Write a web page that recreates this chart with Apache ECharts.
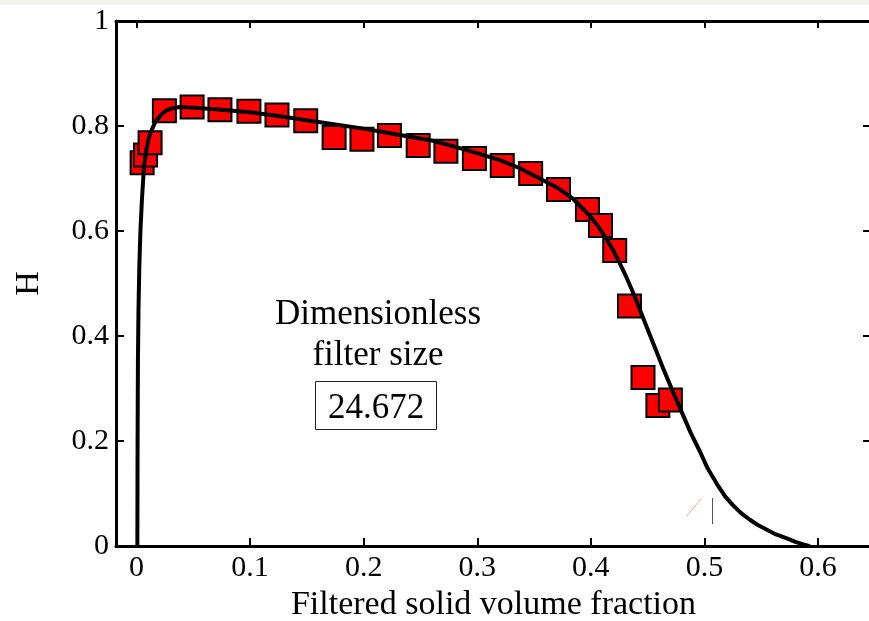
<!DOCTYPE html>
<html>
<head>
<meta charset="utf-8">
<script src="https://cdn.jsdelivr.net/npm/echarts@6/dist/echarts.min.js"></script>
<style>
html,body{margin:0;padding:0;background:#fff;}
#chart{width:869px;height:621px;}
</style>
</head>
<body>
<div id="chart"></div>
<script>
// Measured squares (simulation data)
var squareX = [0.005, 0.008, 0.012, 0.0246, 0.049, 0.0735, 0.099, 0.1237, 0.149, 0.174, 0.1985, 0.2227, 0.248, 0.2724, 0.2975, 0.322, 0.347, 0.3715, 0.397, 0.4085, 0.421, 0.434, 0.4459, 0.459, 0.470];
var squareY = [0.730, 0.745, 0.768, 0.829, 0.836, 0.831, 0.828, 0.821, 0.810, 0.778, 0.775, 0.782, 0.763, 0.752, 0.738, 0.725, 0.7095, 0.679, 0.641, 0.6105, 0.563, 0.457, 0.321, 0.2676, 0.278];
// Model curve
var curveX = [0.0008, 0.001, 0.0013, 0.0018, 0.0025, 0.0035, 0.0048, 0.0066, 0.0085, 0.0104, 0.012, 0.014, 0.0158, 0.0178, 0.022, 0.0266, 0.032, 0.038, 0.05, 0.075, 0.1, 0.125, 0.15, 0.175, 0.2, 0.232, 0.261, 0.291, 0.32, 0.338, 0.355, 0.37, 0.3845, 0.399, 0.407, 0.414, 0.42, 0.4256, 0.4315, 0.4373, 0.443, 0.449, 0.456, 0.4637, 0.472, 0.48, 0.488, 0.496, 0.503, 0.511, 0.518, 0.525, 0.532, 0.54, 0.547, 0.555, 0.563, 0.572, 0.58, 0.587, 0.592];
var curveY = [0, 0.2, 0.35, 0.45, 0.53, 0.6, 0.659, 0.722, 0.752, 0.773, 0.785, 0.795, 0.804, 0.811, 0.822, 0.830, 0.834, 0.836, 0.835, 0.831, 0.826, 0.819, 0.811, 0.803, 0.795, 0.783, 0.772, 0.754, 0.735, 0.719, 0.700, 0.683, 0.661, 0.629, 0.607, 0.584, 0.562, 0.538, 0.511, 0.482, 0.451, 0.418, 0.38, 0.338, 0.295, 0.255, 0.215, 0.18, 0.147, 0.118, 0.095, 0.078, 0.063, 0.05, 0.04, 0.031, 0.022, 0.015, 0.008, 0.003, 0];
var xTicks = [0, 0.1, 0.2, 0.3, 0.4, 0.5, 0.6];
var yTicks = [0, 0.2, 0.4, 0.6, 0.8, 1];
var xTitle = 'Filtered solid volume fraction';
var yTitle = 'H';
var noteLines = ['Dimensionless', 'filter size'];
var noteValue = '24.672';

var FONT = 'Liberation Serif, Times New Roman, serif';
var squares = squareX.map(function (x, i) { return [x, squareY[i]]; });
var curve = curveX.map(function (x, i) { return [x, curveY[i]]; });

var chart = echarts.init(document.getElementById('chart'), null, {renderer: 'canvas'});
var lineSty = {color: '#000', width: 3};
var option = {
  animation: false,
  backgroundColor: '#fff',
  grid: {left: 116, top: 21, right: -2, bottom: 75, containLabel: false, outerBoundsMode: 'none'},
  xAxis: [{
    type: 'value', min: -0.018, max: 0.6466, position: 'bottom',
    axisLine: {show: true, onZero: false, lineStyle: lineSty},
    axisTick: {show: true, inside: true, length: 8, lineStyle: {color: '#000', width: 2}, customValues: xTicks},
    axisLabel: {customValues: xTicks, color: '#000', fontFamily: FONT, fontSize: 30, margin: 7},
    splitLine: {show: false},
    name: xTitle, nameLocation: 'middle', nameGap: 36,
    nameTextStyle: {color: '#000', fontFamily: FONT, fontSize: 34}
  }, {
    type: 'value', min: -0.018, max: 0.6466, position: 'top',
    axisLine: {show: true, onZero: false, lineStyle: lineSty},
    axisTick: {show: true, inside: true, length: 7, lineStyle: {color: '#000', width: 2}, customValues: xTicks},
    axisLabel: {show: false},
    splitLine: {show: false}
  }],
  yAxis: [{
    type: 'value', min: 0, max: 1, interval: 0.2, position: 'left',
    axisLine: {show: true, onZero: false, lineStyle: lineSty},
    axisTick: {show: true, inside: true, length: 8, lineStyle: {color: '#000', width: 2}},
    axisLabel: {color: '#000', fontFamily: FONT, fontSize: 30, margin: 7},
    splitLine: {show: false},
    name: yTitle, nameLocation: 'middle', nameGap: 70, nameRotate: 90,
    nameTextStyle: {color: '#000', fontFamily: FONT, fontSize: 34}
  }, {
    type: 'value', min: 0, max: 1, interval: 0.2, position: 'right',
    axisLine: {show: true, onZero: false, lineStyle: lineSty},
    axisTick: {show: true, inside: true, length: 8, lineStyle: {color: '#000', width: 2}},
    axisLabel: {show: false},
    splitLine: {show: false}
  }],
  series: [{
    type: 'scatter', data: squares, symbol: 'rect', symbolSize: 23, z: 2,
    itemStyle: {color: '#ff0000', borderColor: '#000', borderWidth: 2, opacity: 1}
  }, {
    type: 'line', data: curve, showSymbol: false, symbol: 'none', z: 3, clip: true,
    lineStyle: {color: '#000', width: 4, join: 'round', cap: 'round'}
  }],
  graphic: [
    {type: 'rect', shape: {x: 0, y: 0, width: 869, height: 5}, style: {fill: '#f3f3ee'}, silent: true},
    {type: 'text', x: 378, y: 315, style: {text: noteLines[0], font: '35px ' + FONT, fill: '#000', align: 'center', verticalAlign: 'middle'}},
    {type: 'text', x: 378, y: 356, style: {text: noteLines[1], font: '35px ' + FONT, fill: '#000', align: 'center', verticalAlign: 'middle'}},
    {type: 'rect', shape: {x: 315.5, y: 381.5, width: 121, height: 48}, style: {fill: 'none', stroke: '#222', lineWidth: 1}},
    {type: 'text', x: 376, y: 409, style: {text: noteValue, font: '35px ' + FONT, fill: '#000', align: 'center', verticalAlign: 'middle'}},
    {type: 'line', shape: {x1: 686, y1: 517, x2: 701, y2: 499}, style: {stroke: '#f2a5a5', lineWidth: 1}},
    {type: 'line', shape: {x1: 712.5, y1: 498, x2: 712.5, y2: 524}, style: {stroke: '#555', lineWidth: 1}}
  ]
};
chart.setOption(option);
</script>
</body>
</html>
